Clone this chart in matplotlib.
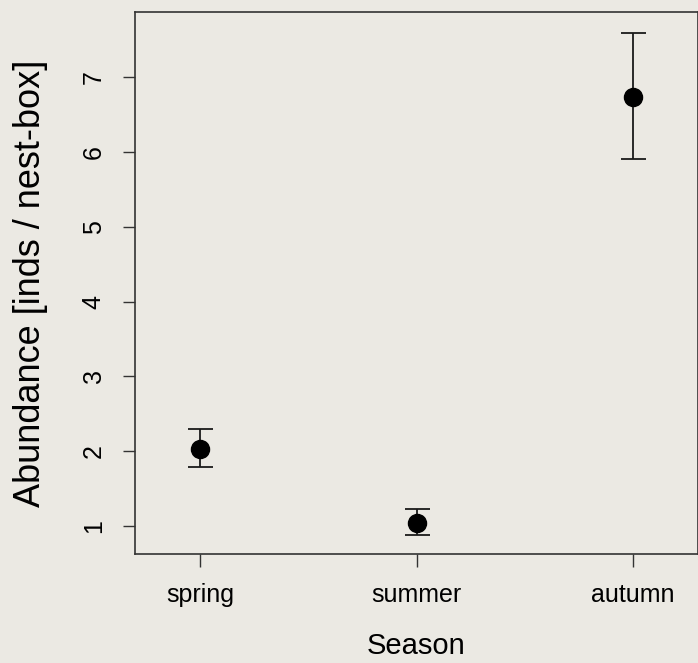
import matplotlib
matplotlib.use("Agg")
import numpy as np
import matplotlib.pyplot as plt

# values
seasons = ["spring", "summer", "autumn"]
abundance = [2.03, 1.04, 6.73]
err_low = [1.79, 0.88, 5.91]
err_high = [2.29, 1.23, 7.59]

plt.rcParams['font.family'] = ['Liberation Sans', 'DejaVu Sans']
bg = "#ebe9e3"

fig = plt.figure(figsize=(6.98, 6.63), dpi=100, facecolor=bg)
ax = fig.add_axes([135 / 698, 1 - 554 / 663, 563 / 698, 542 / 663])
ax.set_facecolor(bg)

x = np.arange(1, len(seasons) + 1)
y = np.array(abundance)
yerr = [y - np.array(err_low), np.array(err_high) - y]
ax.errorbar(x, y, yerr=yerr, fmt='o', color='black', ms=13,
            ecolor='#1a1a1a', elinewidth=1.3, capsize=9, capthick=1.3)

ax.set_xlim(0.7, 3.3)
ax.set_ylim(0.625, 7.87)
ax.set_xticks(x)
ax.set_xticklabels(seasons, fontsize=18)
ax.set_yticks(range(1, 8))
ax.set_yticklabels([str(v) for v in range(1, 8)], fontsize=18, rotation=90, va='center')
ax.tick_params(length=9, width=1.0, color='#333333', pad=12)
for s in ax.spines.values():
    s.set_linewidth(1.2)
    s.set_color('#333333')

ax.set_xlabel("Season", fontsize=21, labelpad=18)
ax.set_ylabel("Abundance [inds / nest-box]", fontsize=26, labelpad=24)

fig.savefig("out.png", dpi=100, facecolor=bg)
